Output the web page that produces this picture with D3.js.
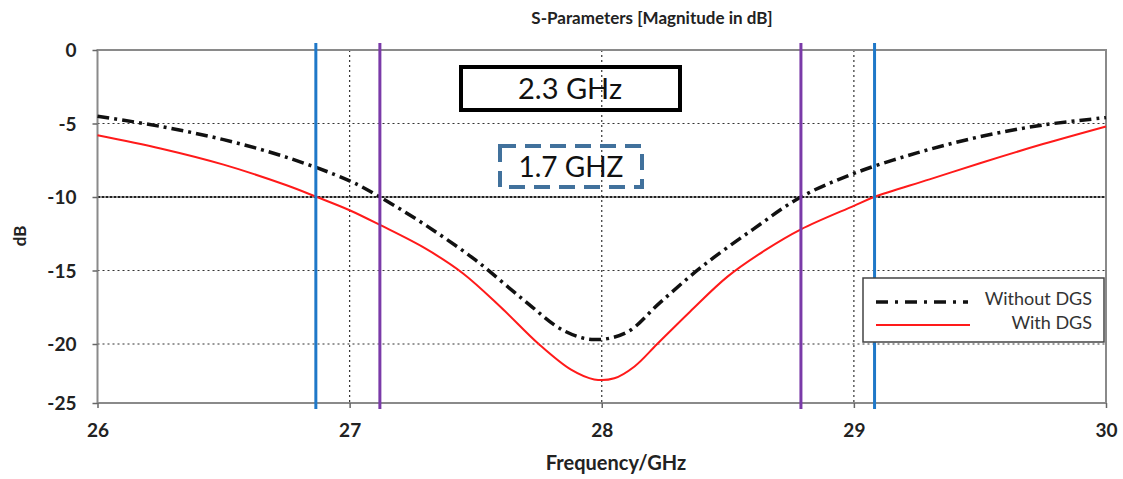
<!DOCTYPE html>
<html><head><meta charset="utf-8">
<script src="https://cdn.jsdelivr.net/npm/d3@7"></script>
<style>
html,body{margin:0;padding:0;background:#fff;}
svg{display:block;font-family:Lato,"Open Sans",sans-serif;}
</style></head>
<body><svg id="c" width="1123" height="479"></svg>
<script>
// ---- data ----
const xTicks = [26, 27, 28, 29, 30];
const yTicks = [0, -5, -10, -15, -20, -25];
const freqWithout = [26.0, 26.25, 26.5, 26.75, 27.0, 27.12, 27.3, 27.5, 27.69, 27.85, 27.97, 28.1, 28.23, 28.4, 28.6, 28.79, 29.0, 29.25, 29.5, 29.75, 30.0];
const dbWithout   = [-4.5, -5.2, -6.1, -7.3, -8.9, -10.0, -11.9, -14.3, -17.0, -19.1, -19.7, -19.2, -17.2, -14.7, -12.2, -10.0, -8.4, -7.0, -5.9, -5.1, -4.6];
const freqWith = [26.0, 26.25, 26.5, 26.75, 26.87, 27.0, 27.12, 27.3, 27.45, 27.6, 27.75, 27.88, 27.97, 28.05, 28.13, 28.22, 28.35, 28.5, 28.65, 28.79, 29.0, 29.08, 29.3, 29.5, 29.75, 30.0];
const dbWith   = [-5.8, -6.7, -7.8, -9.2, -10.0, -10.9, -11.9, -13.5, -15.2, -17.5, -20.0, -22.2, -23.0, -22.9, -21.9, -20.0, -17.8, -15.4, -13.6, -12.2, -10.6, -10.0, -8.8, -7.7, -6.4, -5.2];
const blueLines = [26.866, 29.082];
const purpleLines = [27.12, 28.79];
const seriesNames = ["Without DGS", "With DGS"];
const boxLabels = ["2.3 GHz", "1.7 GHZ"];
const title = "S-Parameters [Magnitude in dB]";
const xTitle = "Frequency/GHz";
const yTitle = "dB";

// ---- layout ----
const svg = d3.select("#c");
const x = d3.scaleLinear().domain([26, 30]).range([97.5, 1106]);
const y = d3.scaleLinear().domain([0, -20, -25]).range([50, 344, 403]);
const [x0, x1] = x.range();
const yTop = y(0), yBot = y(-25);

// gridlines
svg.append("g").selectAll("line").data(yTicks.filter(v => v !== 0 && v !== -25 && v !== -10)).join("line")
  .attr("x1", x0).attr("x2", x1).attr("y1", d => y(d)).attr("y2", d => y(d))
  .attr("stroke", "#333").attr("stroke-width", 1.2).attr("stroke-dasharray", "2,3");
svg.append("g").selectAll("line").data(xTicks.filter(v => v !== 26 && v !== 30)).join("line")
  .attr("y1", yTop).attr("y2", yBot).attr("x1", d => x(d)).attr("x2", d => x(d))
  .attr("stroke", "#333").attr("stroke-width", 1.2).attr("stroke-dasharray", "2,3");
// -10 dB reference line
svg.append("line").attr("x1", x0).attr("x2", x1).attr("y1", y(-10)).attr("y2", y(-10))
  .attr("stroke", "#222").attr("stroke-width", 2.2).attr("stroke-dasharray", "3,1");

// frame
svg.append("rect").attr("x", x0).attr("y", yTop).attr("width", x1 - x0).attr("height", yBot - yTop)
  .attr("fill", "none").attr("stroke", "#8a8a8a").attr("stroke-width", 2);

// axes ticks
const yAxis = d3.axisLeft(y).tickValues(yTicks).tickSize(5).tickFormat(d => String(d));
const gy = svg.append("g").attr("transform", `translate(${x0},0)`).call(yAxis);
gy.select(".domain").remove();
gy.selectAll(".tick line").attr("stroke", "#666").attr("stroke-width", 1.5);
gy.selectAll(".tick text").attr("x", -21).attr("font-size", 19).attr("font-weight", "bold")
  .attr("fill", "#222").attr("font-family", "Lato, sans-serif").attr("dy", "0.35em");
const xAxis = d3.axisBottom(x).tickValues(xTicks).tickSize(5).tickFormat(d => String(d));
const gx = svg.append("g").attr("transform", `translate(0,${yBot})`).call(xAxis);
gx.select(".domain").remove();
gx.selectAll(".tick line").attr("stroke", "#666").attr("stroke-width", 1.5);
gx.selectAll(".tick text").attr("y", 21).attr("font-size", 19).attr("font-weight", "bold")
  .attr("fill", "#222").attr("font-family", "Lato, sans-serif").attr("dy", "0.71em");

// curves
const line = d3.line().curve(d3.curveCatmullRom.alpha(0.5));
const ptsWithout = freqWithout.map((f, i) => [x(f), y(dbWithout[i])]);
const ptsWith = freqWith.map((f, i) => [x(f), y(dbWith[i])]);
svg.append("path").attr("d", line(ptsWith)).attr("fill", "none")
  .attr("stroke", "#ff1a1a").attr("stroke-width", 2);
svg.append("path").attr("d", line(ptsWithout)).attr("fill", "none")
  .attr("stroke", "#111").attr("stroke-width", 3.5).attr("stroke-dasharray", "12,5,3,5");

// marker vertical lines
svg.append("g").selectAll("line").data(blueLines).join("line")
  .attr("x1", d => x(d)).attr("x2", d => x(d)).attr("y1", yTop - 7).attr("y2", yBot + 6)
  .attr("stroke", "#1f78c8").attr("stroke-width", 3);
svg.append("g").selectAll("line").data(purpleLines).join("line")
  .attr("x1", d => x(d)).attr("x2", d => x(d)).attr("y1", yTop - 7).attr("y2", yBot + 6)
  .attr("stroke", "#7a3aa8").attr("stroke-width", 3);

// annotation boxes
svg.append("rect").attr("x", 461).attr("y", 67).attr("width", 219).attr("height", 43)
  .attr("fill", "none").attr("stroke", "#000").attr("stroke-width", 4);
svg.append("text").attr("x", 570).attr("y", 89).attr("dy", "0.35em").attr("text-anchor", "middle")
  .attr("font-size", 29).attr("font-family", "Lato, sans-serif").attr("fill", "#111").text(boxLabels[0]);
svg.append("rect").attr("x", 500).attr("y", 146).attr("width", 142).attr("height", 41)
  .attr("fill", "none").attr("stroke", "#41719c").attr("stroke-width", 4).attr("stroke-dasharray", "16,9");
svg.append("text").attr("x", 571).attr("y", 167).attr("dy", "0.35em").attr("text-anchor", "middle")
  .attr("font-size", 28).attr("font-family", "Lato, sans-serif").attr("fill", "#111").text(boxLabels[1]);

// legend
const lg = svg.append("g");
lg.append("rect").attr("x", 863).attr("y", 278).attr("width", 241).attr("height", 64)
  .attr("fill", "#fff").attr("stroke", "#444").attr("stroke-width", 1.5);
lg.append("line").attr("x1", 876).attr("x2", 968).attr("y1", 302).attr("y2", 302)
  .attr("stroke", "#111").attr("stroke-width", 3.5).attr("stroke-dasharray", "12,7,3,7");
lg.append("line").attr("x1", 876).attr("x2", 970).attr("y1", 325).attr("y2", 325)
  .attr("stroke", "#ff1a1a").attr("stroke-width", 2);
lg.append("text").attr("x", 1092).attr("y", 299).attr("dy", "0.35em").attr("text-anchor", "end")
  .attr("font-size", 18).attr("fill", "#333").text(seriesNames[0]);
lg.append("text").attr("x", 1092).attr("y", 323).attr("dy", "0.35em").attr("text-anchor", "end")
  .attr("font-size", 18).attr("fill", "#333").text(seriesNames[1]);

// titles
svg.append("text").attr("x", 652).attr("y", 18).attr("dy", "0.35em").attr("text-anchor", "middle")
  .attr("font-size", 17).attr("font-weight", "bold").attr("fill", "#222").text(title);
svg.append("text").attr("x", 616).attr("y", 463).attr("dy", "0.35em").attr("text-anchor", "middle")
  .attr("font-size", 20).attr("font-weight", "bold").attr("fill", "#222").text(xTitle);
svg.append("text").attr("transform", "translate(20,236) rotate(-90)").attr("dy", "0.35em")
  .attr("text-anchor", "middle").attr("font-size", 17).attr("font-weight", "bold").attr("fill", "#222").text(yTitle);
</script></body></html>
